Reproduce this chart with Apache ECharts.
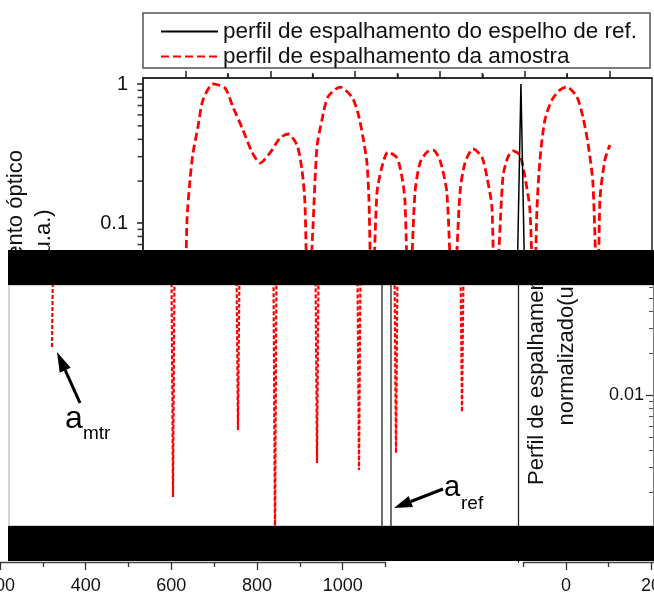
<!DOCTYPE html>
<html><head><meta charset="utf-8">
<script src="https://cdn.jsdelivr.net/npm/echarts@6/dist/echarts.min.js"></script>
<style>html,body{margin:0;padding:0;background:#fff}#c{width:654px;height:594px}</style>
</head><body><div id="c"></div><script>
// ---------- data ----------
const refName = 'perfil de espalhamento do espelho de ref.';
const sampleName = 'perfil de espalhamento da amostra';

// upper panel (log scale)
const topSampleX = [599,603.7,610.8,617.9,629.6,641.4,665,693.3,712.1,735.7,756.9,775.8,799.3,822.9,841.8,863,874.8,881.8,889,900.7,910.1,921.9,936,964.3,992.6,1006.8,1018.5,1028,1032.7,1039.8,1051.5,1063.3,1077.5,1098.7,1110.5,1117.5,1127,1141.1,1152.9,1169.4,1183.5,1200,1216.5,1230.7,1247.2,1259,1277.8,1299,1310.8,1322.6,1329.7,1348.5,1360.3,1372.1,1388.6,1400.4,1412.2,1421.6,1428.7,1435.8,1447.5,1464,1482.9,1499.4,1523,1537.1,1548.9,1560.7,1572.4,1577.2,1588.9,1600.7];
const topSampleY = [0.02,0.105,0.204,0.319,0.491,0.767,1.0,0.936,0.683,0.467,0.324,0.270,0.319,0.409,0.437,0.364,0.241,0.139,0.02,0.094,0.352,0.551,0.806,0.951,0.806,0.618,0.416,0.270,0.146,0.02,0.164,0.253,0.324,0.294,0.214,0.146,0.02,0.164,0.270,0.324,0.335,0.284,0.164,0.02,0.164,0.270,0.341,0.298,0.214,0.130,0.02,0.214,0.298,0.330,0.308,0.214,0.124,0.02,0.124,0.284,0.551,0.767,0.905,0.951,0.806,0.579,0.376,0.194,0.02,0.146,0.284,0.364];
const topRefX = [1372, 1391, 1410];
const topRefY = [0.001, 1.0, 0.001];

// lower panel (log scale)
const lowSampleX = [321.4,323.5, 600.4,603.9,607.4, 752.1,755.6,759.1, 838.5,842.0,845.5, 936.6,940.1,943.6, 1034.6,1038.1,1041.6, 1121.0,1124.5,1128.0, 1275.1,1278.6,1282.1];
const lowSampleY = [0.02214,0.08, 0.08,0.001845,0.08, 0.08,0.0056,0.08, 0.08,0.0009,0.08, 0.08,0.003243,0.08, 0.08,0.002887,0.08, 0.08,0.003826,0.08, 0.08,0.007545,0.08];
const lowRefX = [1091.8, 1091.8, 1112.8, 1112.8];
const lowRefY = [0.08, 0.0007, 0.0007, 0.08];

// ticks / labels
const topMajorX = [600, 800, 1000, 1200, 1400, 1600];
const topMinorX = [700, 900, 1100, 1300, 1500];
const topMinorY = [0.05,0.06,0.07,0.08,0.09,0.2,0.3,0.4,0.5,0.6,0.7,0.8,0.9];
const lowMajorX = [200, 400, 600, 800, 1000];
const lowMinorX = [300, 500, 700, 900, 1100];
const rightMajorX = [0, 20];
const rightMinorX = [-10, 10];
const rightMinorY = [0.002,0.003,0.004,0.005,0.006,0.007,0.008,0.009,0.02,0.03,0.04,0.05,0.06];

const titleText = 'Perfil de espalhamento óptico\nnormalizado(u.a.)';

// ---------- chart ----------
const zip = (a, b) => a.map((v, i) => [v, b[i]]);
const L10 = Math.log10;
const FONT = '"Liberation Sans", Arial, sans-serif';
const chart = echarts.init(document.getElementById('c'), null, {renderer: 'canvas'});

const TOP_MIN = 0.04746, TOP_MAX = 1.1045;
const TOP_XMIN = 500, TOP_XMAX = 1700;
const LOW_MIN = 0.0006288, LOW_MAX = 0.0672;
const PXU = 0.428333; // px per unit, lower panel

const topRect = {left: 143, top: 78, width: 509, height: 190};
const lowDataRect = {left: 0, top: 280, width: 518, height: 282};
const lowBRect = {left: 0, top: 280, width: 385.5, height: 282};
const lowCRect = {left: 523.5, top: 280, width: 129.5, height: 282};
const G = (r, extra) => Object.assign({show: false, outerBoundsMode: 'none', containLabel: false}, r, extra || {});

const noLine = {show: false, onZero: false};
const hiddenVal = (grid, min, max) => ({type: 'value', gridIndex: grid, min, max, show: false, axisLine: {onZero: false}});
const tickOnly = (extra) => Object.assign({axisLine: noLine, axisLabel: {show: false}, splitLine: {show: false}}, extra);
const blackTick = (len, w) => ({length: len, lineStyle: {color: '#222', width: w || 1.5}});

chart.setOption({
  animation: false,
  backgroundColor: '#fff',
  legend: {
    data: [refName, sampleName], orient: 'vertical', left: 143, top: 13,
    padding: [7, 13, 0, 17], itemGap: 2, itemWidth: 57, itemHeight: 20,
    backgroundColor: '#fff', borderColor: '#555', borderWidth: 1.5, selectedMode: false,
    itemStyle: {opacity: 0},
    textStyle: {fontSize: 22.5, fontFamily: FONT, color: '#111'}, z: 20
  },
  grid: [
    G(topRect, {show: true, backgroundColor: '#fff', borderColor: '#222', borderWidth: 1.5, z: 0}),
    G(topRect),
    G(lowDataRect),
    G(lowBRect),
    G(lowBRect),
    G(lowCRect),
    G(lowCRect)
  ],
  xAxis: [
    {type: 'value', gridIndex: 0, position: 'top', min: TOP_XMIN, max: TOP_XMAX,
     axisLine: {onZero: false, lineStyle: {color: '#222', width: 1.5}},
     axisTick: Object.assign({customValues: topMajorX}, blackTick(7)),
     axisLabel: {show: false}, splitLine: {show: false}},
    tickOnly({type: 'value', gridIndex: 1, position: 'top', min: TOP_XMIN, max: TOP_XMAX,
     axisTick: Object.assign({customValues: topMinorX}, blackTick(4))}),
    {type: 'value', gridIndex: 2, position: 'bottom', min: 200, max: 200 + 518 / PXU, show: false, axisLine: {onZero: false}},
    {type: 'value', gridIndex: 3, position: 'bottom', min: 200, max: 1100,
     axisLine: {onZero: false, lineStyle: {color: '#444', width: 1.3}},
     axisTick: {customValues: lowMajorX, length: 8, lineStyle: {color: '#333', width: 1.3}},
     axisLabel: {customValues: lowMajorX, fontSize: 18, fontFamily: FONT, color: '#111', margin: 15,
                 formatter: v => String(v), alignMinLabel: 'center', alignMaxLabel: 'center', hideOverlap: false},
     splitLine: {show: false}},
    tickOnly({type: 'value', gridIndex: 4, position: 'bottom', min: 200, max: 1100,
     axisTick: {customValues: lowMinorX, length: 5, lineStyle: {color: '#333', width: 1.3}}}),
    {type: 'value', gridIndex: 5, position: 'bottom', min: -10, max: 20.47,
     axisLine: {onZero: false, lineStyle: {color: '#444', width: 1.3}},
     axisTick: {customValues: rightMajorX, length: 8, lineStyle: {color: '#333', width: 1.3}},
     axisLabel: {customValues: rightMajorX, fontSize: 18, fontFamily: FONT, color: '#111', margin: 15,
                 formatter: v => String(v), alignMinLabel: 'center', alignMaxLabel: 'center', hideOverlap: false},
     splitLine: {show: false}},
    tickOnly({type: 'value', gridIndex: 6, position: 'bottom', min: -10, max: 20.47,
     axisTick: {customValues: rightMinorX, length: 5, lineStyle: {color: '#333', width: 1.3}}})
  ],
  yAxis: [
    {type: 'log', gridIndex: 0, position: 'left', min: TOP_MIN, max: TOP_MAX,
     axisLine: {onZero: false, lineStyle: {color: '#222', width: 1.5}},
     axisTick: blackTick(6),
     axisLabel: {fontSize: 20, fontFamily: FONT, color: '#111', margin: 15, showMinLabel: false, showMaxLabel: false},
     splitLine: {show: false}},
    hiddenVal(1, 0, 1),
    {type: 'log', gridIndex: 2, min: LOW_MIN, max: LOW_MAX, show: false, axisLine: {onZero: false}},
    hiddenVal(3, 0, 1),
    hiddenVal(4, 0, 1),
    {type: 'log', gridIndex: 5, position: 'left', offset: 5.5, min: LOW_MIN, max: LOW_MAX,
     axisLine: {onZero: false, lineStyle: {color: '#222', width: 1.3}}, axisTick: {show: false},
     axisLabel: {show: false}, splitLine: {show: false}},
    {type: 'log', gridIndex: 5, position: 'right', min: LOW_MIN, max: LOW_MAX,
     axisLine: {onZero: false, lineStyle: {color: '#777', width: 1}},
     axisTick: {inside: true, length: 7, lineStyle: {color: '#333', width: 1.3}},
     axisLabel: {inside: true, fontSize: 18, fontFamily: FONT, color: '#111', margin: 9, showMinLabel: false, showMaxLabel: false},
     splitLine: {show: false}},
    tickOnly({type: 'value', gridIndex: 6, position: 'right', min: L10(LOW_MIN), max: L10(LOW_MAX),
     axisTick: {inside: true, customValues: rightMinorY.map(L10), length: 4, lineStyle: {color: '#555', width: 1}}})
  ],
  series: [
    {name: refName, type: 'line', xAxisIndex: 0, yAxisIndex: 0, data: zip(topRefX, topRefY),
     symbol: 'none', lineStyle: {color: '#000', width: 1.5}, itemStyle: {color: '#000'}, z: 3},
    {name: sampleName, type: 'line', xAxisIndex: 0, yAxisIndex: 0, data: zip(topSampleX, topSampleY),
     symbol: 'none', smooth: 0.25, lineStyle: {color: '#ff0000', width: 2.8, type: [8, 4]}, itemStyle: {color: '#ff0000'}, z: 2},
    {name: sampleName, type: 'line', xAxisIndex: 2, yAxisIndex: 2, data: zip(lowSampleX, lowSampleY),
     symbol: 'none', lineStyle: {color: '#ff0000', width: 2.2, type: [4, 2]}, itemStyle: {color: '#ff0000'}, z: 2},
    {name: refName, type: 'line', xAxisIndex: 2, yAxisIndex: 2, data: zip(lowRefX, lowRefY),
     symbol: 'none', lineStyle: {color: '#222', width: 1.3}, itemStyle: {color: '#000'}, z: 3},
    // minor tick marks of the upper log axis (left) and upper x axis (top), placed through the axes' scales
    {name: 'minor-y', type: 'scatter', xAxisIndex: 0, yAxisIndex: 0, silent: true, clip: false,
     data: topMinorY.map(v => [TOP_XMIN, v]), symbol: 'rect', symbolSize: [5, 1.6], symbolOffset: [-3, 0],
     itemStyle: {color: '#111'}, z: 6},
    {name: 'minor-x', type: 'scatter', xAxisIndex: 0, yAxisIndex: 0, silent: true, clip: false,
     data: topMinorX.map(v => [v, TOP_MAX]), symbol: 'rect', symbolSize: [1.6, 4.5], symbolOffset: [0, -2.8],
     itemStyle: {color: '#111'}, z: 6}
  ],
  graphic: [
    {type: 'text', x: 29.5, y: 295, rotation: Math.PI / 2, z: -2,
     style: {text: titleText, font: '22px ' + FONT, fill: '#111', align: 'center', verticalAlign: 'middle', lineHeight: 28}},
    {type: 'rect', shape: {x: 0, y: 285, width: 9, height: 241}, z: -1, style: {fill: '#fff'}},
    {type: 'rect', shape: {x: 9, y: 285, width: 660, height: 241}, z: -1,
     style: {fill: '#fff', stroke: '#aaa', lineWidth: 1}},
    {type: 'text', x: 551.5, y: 340, rotation: Math.PI / 2, z: -0.5,
     style: {text: titleText, font: '22px ' + FONT, fill: '#111', align: 'center', verticalAlign: 'middle', lineHeight: 30}},
    {type: 'rect', shape: {x: 8, y: 250, width: 660, height: 35}, z: 100, style: {fill: '#000'}},
    {type: 'rect', shape: {x: 8, y: 526, width: 660, height: 35}, z: 100, style: {fill: '#000'}},
    // a_mtr arrow
    {type: 'line', shape: {x1: 80, y1: 403, x2: 65.2, y2: 370.2}, z: 50, style: {stroke: '#000', lineWidth: 3}},
    {type: 'polygon', shape: {points: [[57, 352], [70.7, 367.7], [59.7, 372.7]]}, z: 50, style: {fill: '#000'}},
    {type: 'text', x: 65, y: 419, z: 50, style: {text: 'a', font: '32px ' + FONT, fill: '#000', verticalAlign: 'middle'}},
    {type: 'text', x: 83, y: 434, z: 50, style: {text: 'mtr', font: '19px ' + FONT, fill: '#000', verticalAlign: 'middle'}},
    // a_ref arrow
    {type: 'line', shape: {x1: 443, y1: 489, x2: 410.8, y2: 501.5}, z: 50, style: {stroke: '#000', lineWidth: 3}},
    {type: 'polygon', shape: {points: [[394, 508], [413, 507.1], [408.6, 495.9]]}, z: 50, style: {fill: '#000'}},
    {type: 'text', x: 444, y: 488, z: 50, style: {text: 'a', font: '29px ' + FONT, fill: '#000', verticalAlign: 'middle'}},
    {type: 'text', x: 461, y: 504, z: 50, style: {text: 'ref', font: '19px ' + FONT, fill: '#000', verticalAlign: 'middle'}}
  ]
});
</script></body></html>
